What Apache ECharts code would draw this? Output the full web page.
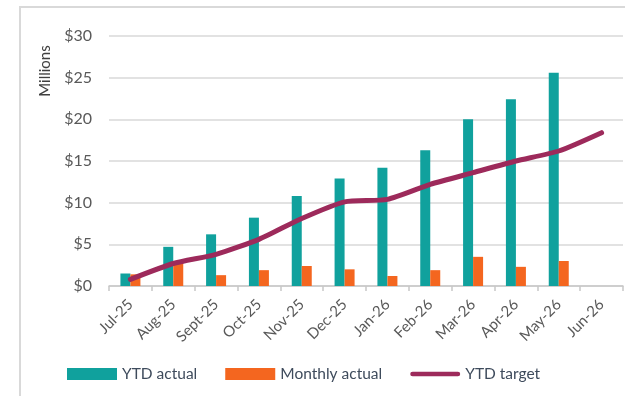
<!DOCTYPE html>
<html>
<head>
<meta charset="utf-8">
<script src="https://cdn.jsdelivr.net/npm/echarts@6/dist/echarts.min.js"></script>
<style>
  html, body { margin: 0; padding: 0; background: #fff; }
  #chart { width: 625px; height: 396px; }
</style>
</head>
<body>
<div id="chart"></div>
<script>
// Monthly periods of the financial year
const months = ['Jul-25', 'Aug-25', 'Sept-25', 'Oct-25', 'Nov-25', 'Dec-25',
                'Jan-26', 'Feb-26', 'Mar-26', 'Apr-26', 'May-26', 'Jun-26'];

// Values in $ millions
const ytdActual     = [1.5, 4.7, 6.2, 8.2, 10.8, 12.9, 14.2, 16.3, 20.0, 22.4, 25.6, null];
const monthlyActual = [1.4, 2.8, 1.3, 1.9, 2.4, 2.0, 1.2, 1.9, 3.5, 2.3, 3.0, null];
const ytdTarget     = [0.8, 2.7, 3.8, 5.6, 8.1, 10.1, 10.4, 12.2, 13.6, 15.0, 16.2, 18.4];

// Y axis ticks
const yMin = 0, yMax = 30, yStep = 5;

const FONT = 'Lato, "Open Sans", sans-serif';
const TEAL = '#10a19d';
const ORANGE = '#f4661f';
const MAROON = '#9d2a5b';

const chart = echarts.init(document.getElementById('chart'), null, { renderer: 'canvas' });

chart.setOption({
  animation: false,
  textStyle: { fontFamily: FONT },
  graphic: [
    {
      type: 'rect',
      shape: { x: 20, y: 7, width: 640, height: 420 },
      style: { fill: 'none', stroke: '#d9d9d9', lineWidth: 2 },
      z: -1
    },
    {
      type: 'text',
      x: 45, y: 71,
      rotation: Math.PI / 2,
      style: {
        text: 'Millions',
        font: '15px ' + FONT,
        fill: '#404040',
        align: 'center',
        verticalAlign: 'middle'
      }
    }
  ],
  grid: { left: 109, right: 2, top: 36, bottom: 110 },
  legend: {
    left: 62,
    top: 361,
    itemWidth: 50,
    itemHeight: 12,
    itemGap: 28,
    textStyle: { fontFamily: FONT, fontSize: 15.5, color: '#3e4b5c' },
    data: [
      { name: 'YTD actual', icon: 'rect' },
      { name: 'Monthly actual', icon: 'rect' },
      { name: 'YTD target', icon: 'path://M2,0 L50,0 A2.5,2.5 0 0 1 50,5 L2,5 A2.5,2.5 0 0 1 2,0 Z' }
    ]
  },
  xAxis: {
    type: 'category',
    data: months,
    boundaryGap: true,
    axisLine: { lineStyle: { color: '#c8c8c8', width: 1.5 } },
    axisTick: { show: true, length: 5, lineStyle: { color: '#c8c8c8', width: 1.5 } },
    axisLabel: {
      rotate: 45,
      interval: 0,
      margin: 16,
      fontSize: 15,
      color: '#595959',
      fontFamily: FONT
    }
  },
  yAxis: {
    type: 'value',
    min: yMin,
    max: yMax,
    interval: yStep,
    axisLine: { show: false },
    axisTick: { show: false },
    splitLine: { lineStyle: { color: '#d9d9d9', width: 1.5 } },
    axisLabel: {
      margin: 17,
      fontSize: 16,
      color: '#595959',
      fontFamily: FONT,
      formatter: v => '$' + v
    }
  },
  series: [
    {
      name: 'YTD actual',
      type: 'bar',
      data: ytdActual,
      barWidth: 10,
      barGap: '0%',
      itemStyle: { color: TEAL }
    },
    {
      name: 'Monthly actual',
      type: 'bar',
      data: monthlyActual,
      barWidth: 10,
      barGap: '0%',
      itemStyle: { color: ORANGE }
    },
    {
      name: 'YTD target',
      type: 'line',
      data: ytdTarget,
      symbol: 'none',
      smooth: 0.2,
      lineStyle: { color: MAROON, width: 5, cap: 'round' },
      itemStyle: { color: MAROON },
      z: 5
    }
  ]
});
</script>
</body>
</html>
